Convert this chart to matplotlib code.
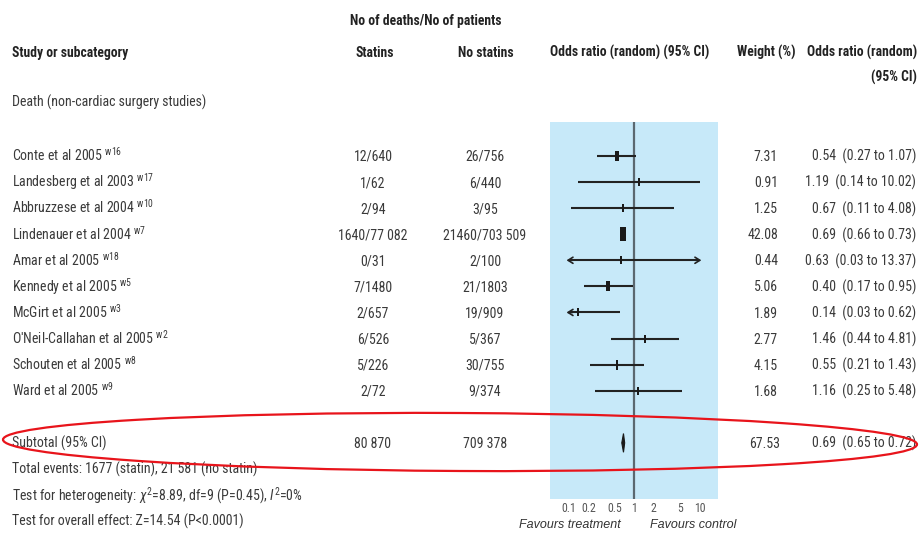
import numpy as np
import matplotlib
matplotlib.use('Agg')
import matplotlib.pyplot as plt
from matplotlib import font_manager
from matplotlib.patches import Ellipse, Polygon
from matplotlib.transforms import blended_transform_factory

# ---- data ----
names = ['Conte et al 2005', 'Landesberg et al 2003', 'Abbruzzese et al 2004',
         'Lindenauer et al 2004', 'Amar et al 2005', 'Kennedy et al 2005',
         'McGirt et al 2005', "O'Neil-Callahan et al 2005", 'Schouten et al 2005',
         'Ward et al 2005']
refs = ['w16', 'w17', 'w10', 'w7', 'w18', 'w5', 'w3', 'w2', 'w8', 'w9']
statins = ['12/640', '1/62', '2/94', '1640/77 082', '0/31', '7/1480', '2/657',
           '6/526', '5/226', '2/72']
no_statins = ['26/756', '6/440', '3/95', '21460/703 509', '2/100', '21/1803',
              '19/909', '5/367', '30/755', '9/374']
weights = [7.31, 0.91, 1.25, 42.08, 0.44, 5.06, 1.89, 2.77, 4.15, 1.68]
odds = [0.54, 1.19, 0.67, 0.69, 0.63, 0.40, 0.14, 1.46, 0.55, 1.16]
ci_lo = [0.27, 0.14, 0.11, 0.66, 0.03, 0.17, 0.03, 0.44, 0.21, 0.25]
ci_hi = [1.07, 10.02, 4.08, 0.73, 13.37, 0.95, 0.62, 4.81, 1.43, 5.48]

sub_statins = '80 870'
sub_no_statins = '709 378'
sub_weight = 67.53
sub_or, sub_lo, sub_hi = 0.69, 0.65, 0.72

ticks = [0.1, 0.2, 0.5, 1, 2, 5, 10]
tick_labels = ['0.1', '0.2', '0.5', '1', '2', '5', '10']


def pick(fams):
    for f in fams:
        try:
            font_manager.findfont(f, fallback_to_default=False)
            return f
        except Exception:
            pass
    return 'DejaVu Sans'


narrow = pick(['Liberation Sans Narrow', 'Roboto Condensed', 'Liberation Sans'])
wide = pick(['Liberation Sans', 'DejaVu Sans'])
plt.rcParams['font.family'] = [narrow, 'DejaVu Sans']
plt.rcParams['mathtext.fontset'] = 'custom'
plt.rcParams['mathtext.rm'] = narrow
plt.rcParams['mathtext.it'] = narrow + ':italic'
plt.rcParams['mathtext.bf'] = narrow + ':bold'

W, H = 920, 533
FS = 10
HFS = 9.8
txt_col = '#3a3a3a'
hdr_col = '#222222'
cap = 0.729 * FS * 100 / 72  # cap height in px

fig = plt.figure(figsize=(W / 100, H / 100), dpi=100)

# forest plot panel
bx0, bx1, by0, by1 = 550, 718, 122, 499
ax = fig.add_axes([bx0 / W, (H - by1) / H, (bx1 - bx0) / W, (by1 - by0) / H])
ax.set_facecolor('#c7e9f9')
ax.set_xscale('log')
ax.set_xlim(0.052, 19.2)
ax.set_ylim(13.15, -1.30)
for s in ax.spines.values():
    s.set_visible(False)
ax.set_yticks([])
ax.set_xticks(ticks)
ax.set_xticklabels(tick_labels)
ax.minorticks_off()
ax.tick_params(axis='x', length=0, pad=2.5, labelsize=8.5, labelcolor='#555555')
ax.axvline(1, color='#5b6870', lw=1.6, zorder=2)

line_col = '#222222'
lo_lim, hi_lim = 0.1, 10
for i in range(len(names)):
    lo = max(ci_lo[i], lo_lim)
    hi = min(ci_hi[i], hi_lim) if ci_hi[i] > 11 else ci_hi[i]
    ax.plot([lo, hi], [i, i], color=line_col, lw=1.5, solid_capstyle='butt', zorder=3)
    if ci_lo[i] < lo_lim:
        ax.annotate('', xy=(lo * 0.93, i), xytext=(lo * 1.15, i),
                    arrowprops=dict(arrowstyle='->,head_length=0.35,head_width=0.22',
                                    color=line_col, lw=1.2, shrinkA=0, shrinkB=0), zorder=3)
    if ci_hi[i] > 11:
        ax.annotate('', xy=(hi * 1.07, i), xytext=(hi / 1.15, i),
                    arrowprops=dict(arrowstyle='->,head_length=0.35,head_width=0.22',
                                    color=line_col, lw=1.2, shrinkA=0, shrinkB=0), zorder=3)
    hpx = 8.5 + 0.15 * weights[i]
    wpx = 2.6 + 0.08 * weights[i]
    a = wpx / hpx
    ax.plot(odds[i], i, marker=[(-a, -1), (a, -1), (a, 1), (-a, 1), (-a, -1)],
            ms=hpx * 0.72, color='#1a1a1a', mew=0, zorder=4)

sub_row = 11
ax.add_patch(Polygon([(sub_lo, sub_row), (sub_or, sub_row - 0.36),
                      (sub_hi, sub_row), (sub_or, sub_row + 0.36)],
                     closed=True, facecolor='#1a1a1a', edgecolor='#1a1a1a', lw=0.8, zorder=4))

# overlay in pixel coordinates for the table text
ov = fig.add_axes([0, 0, 1, 1])
ov.set_xlim(0, W)
ov.set_ylim(H, 0)
ov.axis('off')
rowtr = blended_transform_factory(ov.transData, ax.transData)
row_px = (by1 - by0) / (13.15 + 1.30)
off = cap / 2 / row_px


def put(x, yc, s, ha='left', bold=False, size=FS, color=txt_col, **kw):
    c = 0.729 * size * 100 / 72
    ov.text(x, yc + c / 2, s, ha=ha, va='baseline', fontsize=size,
            fontweight='bold' if bold else 'normal', color=color, **kw)


def put_row(x, r, s, ha='left'):
    ov.text(x, r + off, s, ha=ha, va='baseline', fontsize=FS, color=txt_col,
            transform=rowtr, clip_on=False)


# headers
put(426, 20, 'No of deaths/No of patients', ha='center', bold=True, size=HFS, color=hdr_col)
put(12, 52, 'Study or subcategory', bold=True, size=HFS, color=hdr_col)
put(375, 52, 'Statins', ha='center', bold=True, size=HFS, color=hdr_col)
put(486, 52, 'No statins', ha='center', bold=True, size=HFS, color=hdr_col)
put(630, 52, 'Odds ratio (random) (95% CI)', ha='center', bold=True, size=HFS, color=hdr_col)
put(766, 52, 'Weight (%)', ha='center', bold=True, size=HFS, color=hdr_col)
put(917, 52, 'Odds ratio (random)', ha='right', bold=True, size=HFS, color=hdr_col)
put(917, 77, '(95% CI)', ha='right', bold=True, size=HFS, color=hdr_col)
put(12, 102, 'Death (non-cardiac surgery studies)')

for i in range(len(names)):
    put_row(12, i, names[i] + r' $^{\mathrm{' + refs[i] + '}}$')
    put_row(373, i, statins[i], ha='center')
    put_row(485, i, no_statins[i], ha='center')
    put_row(778, i, f'{weights[i]:.2f}', ha='right')
    put_row(916, i, f'{odds[i]:.2f}  ({ci_lo[i]:.2f} to {ci_hi[i]:.2f})', ha='right')

put_row(12, sub_row, 'Subtotal (95% CI)')
put_row(373, sub_row, sub_statins, ha='center')
put_row(485, sub_row, sub_no_statins, ha='center')
put_row(780, sub_row, f'{sub_weight:.2f}', ha='right')
put_row(916, sub_row, f'{sub_or:.2f}  ({sub_lo:.2f} to {sub_hi:.2f})', ha='right')

put(12, 469, 'Total events: 1677 (statin), 21 581 (no statin)')
put(12, 495, r'Test for heterogeneity: $\chi^2$=8.89, df=9 (P=0.45), $I^2$=0%')
put(12, 521, 'Test for overall effect: Z=14.54 (P<0.0001)')

put(570, 523, 'Favours treatment', ha='center', size=9, color='#333333',
    family=wide, style='italic')
put(693, 523, 'Favours control', ha='center', size=9, color='#333333',
    family=wide, style='italic')

# red ellipse around subtotal row
ov.add_patch(Ellipse((460, 442), 914, 58, angle=0.3, fill=False,
                     edgecolor='#e8141b', lw=1.6, zorder=10))

fig.savefig('out.png', dpi=100)
